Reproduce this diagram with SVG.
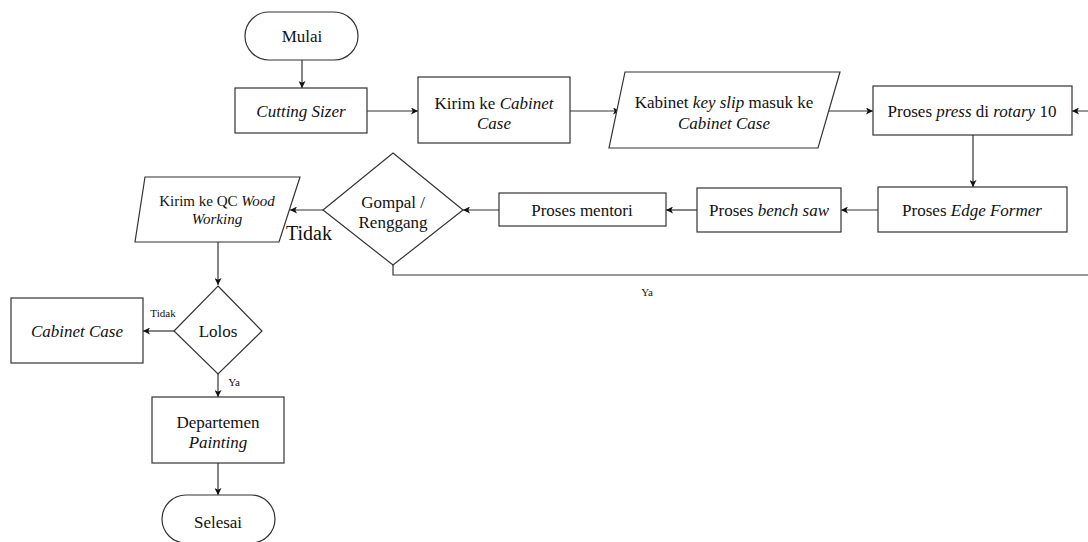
<svg xmlns="http://www.w3.org/2000/svg" width="1088" height="542" viewBox="0 0 1088 542" font-family="'Liberation Serif', 'DejaVu Serif', serif">
  <style>
    .shape { fill: #ffffff; stroke: #333333; stroke-width: 1.2; }
    .conn { fill: none; stroke: #333333; stroke-width: 1.2; marker-end: url(#arrow); }
    text { font-family: 'Liberation Serif', 'DejaVu Serif', serif; fill: #111111; text-anchor: middle; }
    .t17 { font-size: 17px; }
    .t15 { font-size: 15px; }
    .lbl-big { font-size: 20px; text-anchor: start; }
    .lbl { font-size: 11px; }
    .it { font-style: italic; }
  </style>
  <defs>
    <marker id="arrow" viewBox="0 0 10 10" refX="10" refY="5" markerWidth="7" markerHeight="7" markerUnits="userSpaceOnUse" orient="auto">
      <path d="M0,0 L10,5 L0,10 L2.5,5 Z" fill="#111111"/>
    </marker>
  </defs>

  <!-- connectors -->
  <g id="connectors">
    <path class="conn" d="M302,60 V88"/>
    <path class="conn" d="M367,111 H418"/>
    <path class="conn" d="M570,111 H620"/>
    <path class="conn" d="M829,111 H873"/>
    <path class="conn" d="M973,135 V187"/>
    <path class="conn" d="M878,210 H841"/>
    <path class="conn" d="M697,210 H666"/>
    <path class="conn" d="M499,210 H463"/>
    <path class="conn" d="M323,210 H290"/>
    <path class="conn" d="M218,242 V285"/>
    <path class="conn" d="M174,331 H143"/>
    <path class="conn" d="M218,374 V397"/>
    <path class="conn" d="M218,463 V495"/>
    <!-- "Ya" loop back to the rotary press -->
    <path class="conn" d="M393,265 V275 H1100 V111 H1072"/>
    <text class="lbl-big" x="286" y="240">Tidak</text>
    <text class="lbl" x="163" y="317">Tidak</text>
    <text class="lbl" x="234" y="386">Ya</text>
    <text class="lbl" x="647" y="296">Ya</text>
  </g>

  <g id="mulai">
    <rect class="shape" x="245" y="12" width="113" height="48" rx="24"/>
    <text class="t17" x="302" y="42">Mulai</text>
  </g>

  <g id="cutting-sizer">
    <rect class="shape" x="235" y="88" width="132" height="45"/>
    <text class="t17 it" x="301" y="117">Cutting Sizer</text>
  </g>

  <g id="kirim-cabinet">
    <rect class="shape" x="418" y="77" width="152" height="66"/>
    <text class="t17" x="494" y="109">Kirim ke <tspan class="it">Cabinet</tspan></text>
    <text class="t17 it" x="494" y="129">Case</text>
  </g>

  <g id="kabinet-key-slip">
    <polygon class="shape" points="625,72 840,72 818,148 609,148"/>
    <text class="t17" x="724" y="108">Kabinet <tspan class="it">key slip</tspan> masuk ke</text>
    <text class="t17 it" x="724" y="129">Cabinet Case</text>
  </g>

  <g id="press-rotary">
    <rect class="shape" x="873" y="86" width="199" height="49"/>
    <text class="t17" x="972" y="117">Proses <tspan class="it">press</tspan> di <tspan class="it">rotary</tspan> 10</text>
  </g>

  <g id="edge-former">
    <rect class="shape" x="878" y="187" width="189" height="45"/>
    <text class="t17" x="972" y="216">Proses <tspan class="it">Edge Former</tspan></text>
  </g>

  <g id="bench-saw">
    <rect class="shape" x="697" y="188" width="144" height="44"/>
    <text class="t17" x="769" y="216">Proses <tspan class="it">bench saw</tspan></text>
  </g>

  <g id="mentori">
    <rect class="shape" x="499" y="193" width="167" height="33"/>
    <text class="t17" x="582" y="216">Proses mentori</text>
  </g>

  <g id="gompal">
    <polygon class="shape" points="393,153 463,210 393,265 323,210"/>
    <text class="t17" x="393" y="208">Gompal /</text>
    <text class="t17" x="393" y="228">Renggang</text>
  </g>

  <g id="qc-wood">
    <polygon class="shape" points="145,177 300,177 279,242 135,242"/>
    <text class="t15" x="217" y="206">Kirim ke QC <tspan class="it">Wood</tspan></text>
    <text class="t15 it" x="217" y="224">Working</text>
  </g>

  <g id="lolos">
    <polygon class="shape" points="218,286 262,331 218,374 174,331"/>
    <text class="t17" x="218" y="337">Lolos</text>
  </g>

  <g id="cabinet-case">
    <rect class="shape" x="11" y="298" width="132" height="65"/>
    <text class="t17 it" x="77" y="337">Cabinet Case</text>
  </g>

  <g id="painting">
    <rect class="shape" x="152" y="397" width="132" height="66"/>
    <text class="t17" x="218" y="428">Departemen</text>
    <text class="t17 it" x="218" y="448">Painting</text>
  </g>

  <g id="selesai">
    <rect class="shape" x="162" y="495" width="113" height="48" rx="24"/>
    <text class="t17" x="218" y="528">Selesai</text>
  </g>
</svg>
